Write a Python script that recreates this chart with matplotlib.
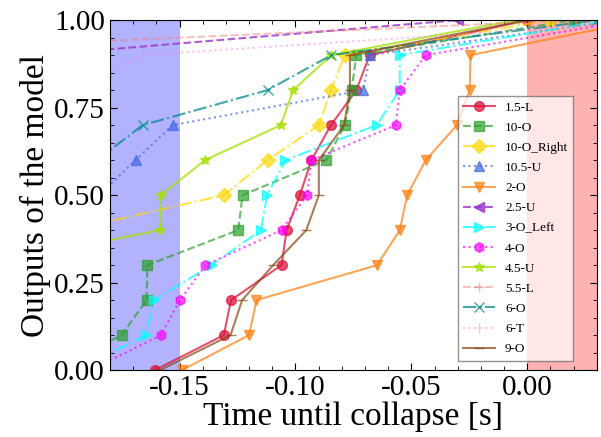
import matplotlib
matplotlib.use("Agg")
import matplotlib.pyplot as plt
from matplotlib.ticker import MultipleLocator, AutoMinorLocator

plt.rcParams['font.family'] = ['Liberation Serif', 'DejaVu Serif']

# Datos: tiempo hasta el colapso (s) vs salida del modelo
labels = ['1.5-L', '10-O', '10-O_Right', '10.5-U', '2-O', '2.5-U', '3-O_Left',
          '4-O', '4.5-U', '5.5-L', '6-O', '6-T', '9-O']

x_15L = [-0.1606, -0.1309, -0.1278, -0.1060, -0.1038, -0.0981, -0.0931, -0.0847, -0.0737, -0.0680, 0.000]
y_15L = [0.0, 0.1, 0.2, 0.3, 0.4, 0.5, 0.6, 0.7, 0.8, 0.9, 1.0]

x_10O = [-0.205, -0.175, -0.1642, -0.1639, -0.1247, -0.1228, -0.0866, -0.0787, -0.0758, -0.0737, 0.020]
y_10O = [0.0, 0.1, 0.2, 0.3, 0.4, 0.5, 0.6, 0.7, 0.8, 0.9, 1.0]

x_10OR = [-0.197, -0.1309, -0.112, -0.0898, -0.0847, -0.0787, 0.010]
y_10OR = [0.4, 0.5, 0.6, 0.7, 0.8, 0.9, 1.0]

x_105U = [-0.1847, -0.1689, -0.153, -0.0708, -0.0677, 0.040]
y_105U = [0.5, 0.6, 0.7, 0.8, 0.9, 1.0]

x_2O = [-0.149, -0.120, -0.1168, -0.0648, -0.055, -0.0518, -0.0438, -0.0303, -0.0248, -0.0245, 0.050]
y_2O = [0.0, 0.1, 0.2, 0.3, 0.4, 0.5, 0.6, 0.7, 0.8, 0.9, 1.0]

x_25U = [-0.21, -0.03]
y_25U = [0.9, 1.0]

x_3OL = [-0.195, -0.1645, -0.161, -0.1362, -0.1149, -0.1122, -0.1043, -0.065, -0.055, -0.055, 0.035]
y_3OL = [0.0, 0.1, 0.2, 0.3, 0.4, 0.5, 0.6, 0.7, 0.8, 0.9, 1.0]

x_4O = [-0.1886, -0.158, -0.1498, -0.1388, -0.106, -0.095, -0.0931, -0.0567, -0.055, -0.0438, 0.045]
y_4O = [0.0, 0.1, 0.2, 0.3, 0.4, 0.5, 0.6, 0.7, 0.8, 0.9, 1.0]

x_45U = [-0.234, -0.1584, -0.158, -0.139, -0.1063, -0.101, -0.0845, -0.005]
y_45U = [0.3, 0.4, 0.5, 0.6, 0.7, 0.8, 0.9, 1.0]

x_55L = [-0.32, 0.021]
y_55L = [0.9, 1.0]

x_6O = [-0.1856, -0.1659, -0.112, -0.0845, 0.030]
y_6O = [0.6, 0.7, 0.8, 0.9, 1.0]

x_6T = [-0.206, -0.1659, 0.065]
y_6T = [0.8, 0.9, 1.0]

x_9O = [-0.1584, -0.128, -0.123, -0.1096, -0.0953, -0.0899, -0.0899, -0.079, -0.0765, -0.0765, 0.000]
y_9O = [0.0, 0.1, 0.2, 0.3, 0.4, 0.5, 0.6, 0.7, 0.8, 0.9, 1.0]

xs = [x_15L, x_10O, x_10OR, x_105U, x_2O, x_25U, x_3OL, x_4O, x_45U, x_55L, x_6O, x_6T, x_9O]
ys = [y_15L, y_10O, y_10OR, y_105U, y_2O, y_25U, y_3OL, y_4O, y_45U, y_55L, y_6O, y_6T, y_9O]

colors = ['crimson', '#2ca02c', 'gold', 'royalblue', '#ff7f0e', 'darkorchid', 'cyan',
          'magenta', '#a5e000', 'lightcoral', 'darkcyan', 'violet', 'saddlebrown']
markers = ['o', 's', 'D', '^', 'v', '<', '>', 'h', '*', '+', 'x', '|', '_']
styles = ['-', '--', '-.', ':'] * 3 + ['-']
alphas = [0.75, 0.7, 0.7, 0.7, 0.7, 0.8, 0.7, 0.7, 0.75, 0.5, 0.75, 0.5, 0.7]

fig = plt.figure(figsize=(6.01, 4.37), dpi=100)
ax = fig.add_axes([0.183, 0.153, 0.810, 0.801])

# Zonas sombreadas
ax.axvspan(-0.18, -0.15, color='blue', alpha=0.3, lw=0)
ax.axvspan(0.0, 0.03, color='red', alpha=0.3, lw=0)

for x, y, lab, c, m, ls, a in zip(xs, ys, labels, colors, markers, styles, alphas):
    ax.plot(x, y, ls=ls, marker=m, color=c, alpha=a, lw=1.5, ms=7, label=lab)

ax.set_xlim(-0.18, 0.03)
ax.set_ylim(0, 1)
ax.xaxis.set_major_locator(MultipleLocator(0.05))
ax.yaxis.set_major_locator(MultipleLocator(0.25))
ax.xaxis.set_minor_locator(AutoMinorLocator(5))
ax.yaxis.set_minor_locator(AutoMinorLocator(5))
ax.xaxis.set_major_formatter(plt.FormatStrFormatter('%.2f'))
ax.yaxis.set_major_formatter(plt.FormatStrFormatter('%.2f'))
ax.tick_params(which='both', direction='in', top=True, right=True, labelsize=21)
ax.tick_params(which='major', length=5)
ax.tick_params(which='minor', length=3)

ax.set_xlabel('Time until collapse [s]', fontsize=24, labelpad=0)
ax.set_ylabel('Outputs of the model', fontsize=24, labelpad=2)

ax.legend(loc='upper left', bbox_to_anchor=(0.714, 0.783), borderaxespad=0,
          fontsize=9.5, fancybox=False, edgecolor='0.4', framealpha=0.7,
          handlelength=2.4, labelspacing=0.6)

fig.savefig('out.png', dpi=100)
